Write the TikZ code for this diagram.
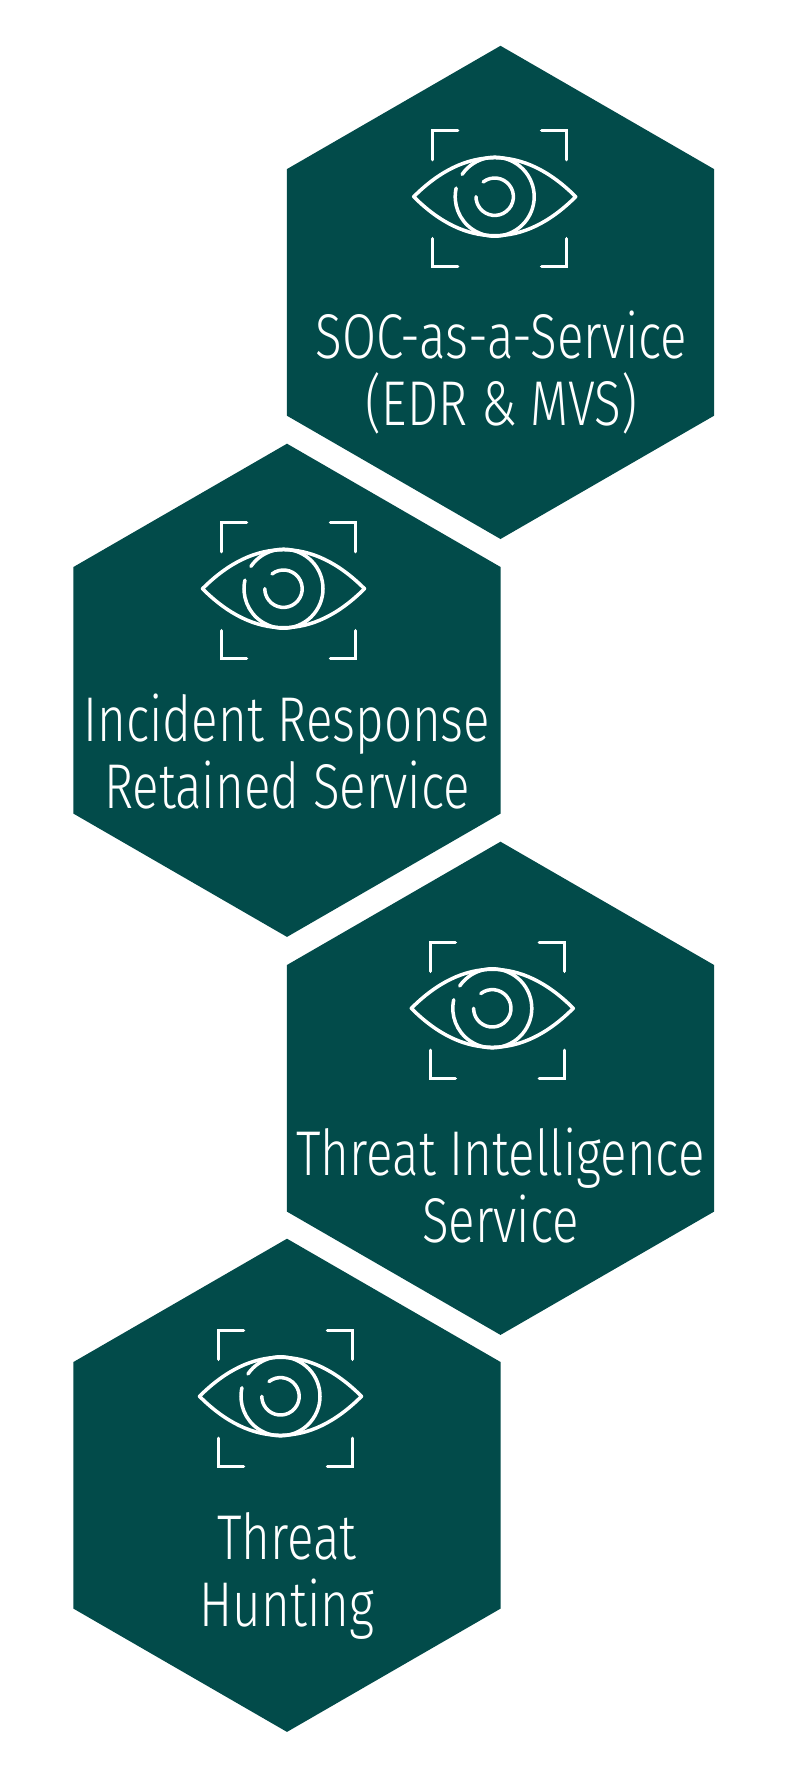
\documentclass[tikz,border=0pt]{standalone}
\usepackage{fontspec}
\setmainfont{Fira Sans Light}[FakeStretch=0.78]
\usetikzlibrary{shapes.geometric}
\definecolor{hexteal}{HTML}{024B4A}
\tikzset{
  hexcell/.style={regular polygon, regular polygon sides=6, shape border rotate=30, fill=hexteal, minimum size=9.866cm, inner sep=0pt, outer sep=0pt},
  hexlabel/.style={text=white, align=center, anchor=base, font=\fontsize{36}{38}\selectfont, inner sep=0pt},
  eyeline/.style={draw=white, line width=2pt, line cap=round, line join=round},
  cornerline/.style={draw=white, line width=2pt, line cap=round, line join=miter},
  eyeicon/.pic={
    \draw[eyeline] (-81,0) .. controls (-55,-26) and (-28,-39) .. (0,-39) .. controls (28,-39) and (55,-26) .. (81,0) .. controls (55,26) and (28,39) .. (0,39) .. controls (-28,39) and (-55,26) .. cycle;
    \draw[eyeline] (-145.6:39.5) arc[start angle=-145.6, end angle=192.5, radius=39.5];
    \draw[eyeline] (-128:18.7) arc[start angle=-128, end angle=180, radius=18.7];
    \draw[cornerline] (-62,-37) -- (-62,-66) -- (-37,-66);
    \draw[cornerline] (47,-66) -- (72,-66) -- (72,-37);
    \draw[cornerline] (-62,42) -- (-62,70) -- (-37,70);
    \draw[cornerline] (47,70) -- (72,70) -- (72,42);
  }
}
\begin{document}
\begin{tikzpicture}[x=0.02cm,y=-0.02cm]
\useasboundingbox (0,0) rectangle (800,1775);
\node[hexcell] (soc) at (500.5,292.4) {};
\node[hexcell] (incident) at (287,690.3) {};
\node[hexcell] (intel) at (500.5,1088.3) {};
\node[hexcell] (hunting) at (287,1485.3) {};
\pic (soceye) at (494.7,196.7) {eyeicon};
\pic (incidenteye) at (283.5,588.7) {eyeicon};
\pic (inteleye) at (492.3,1008.3) {eyeicon};
\pic (huntingeye) at (280.5,1396.3) {eyeicon};
\node[hexlabel] (soclabel) at (501.5,425) {SOC-as-a-Service\\(EDR \& MVS)};
\node[hexlabel] (incidentlabel) at (287,808.3) {Incident Response\\Retained Service};
\node[hexlabel] (intellabel) at (500.5,1242) {Threat Intelligence\\Service};
\node[hexlabel] (huntinglabel) at (287,1626.7) {Threat\\Hunting};
\end{tikzpicture}
\end{document}
